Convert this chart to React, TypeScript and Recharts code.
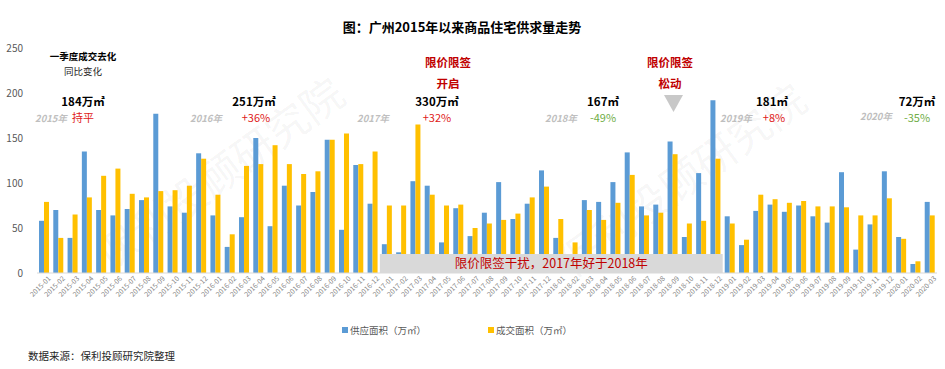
import React from 'react';
import { BarChart, Bar, XAxis, YAxis, Legend, ReferenceArea } from 'recharts';

const months = [
  '2015-01','2015-02','2015-03','2015-04','2015-05','2015-06','2015-07','2015-08','2015-09','2015-10','2015-11','2015-12',
  '2016-01','2016-02','2016-03','2016-04','2016-05','2016-06','2016-07','2016-08','2016-09','2016-10','2016-11','2016-12',
  '2017-01','2017-02','2017-03','2017-04','2017-05','2017-06','2017-07','2017-08','2017-09','2017-10','2017-11','2017-12',
  '2018-01','2018-02','2018-03','2018-04','2018-05','2018-06','2018-07','2018-08','2018-09','2018-10','2018-11','2018-12',
  '2019-01','2019-02','2019-03','2019-04','2019-05','2019-06','2019-07','2019-08','2019-09','2019-10','2019-11','2019-12',
  '2020-01','2020-02','2020-03',
];

const supply = [
  58, 70, 39, 135, 70, 64, 71, 81, 177, 74, 67, 133,
  64, 29, 62, 150, 52, 97, 75, 90, 148, 48, 120, 77,
  32, 23, 102, 97, 34, 72, 41, 67, 101, 60, 77, 114,
  39, 18, 81, 79, 101, 134, 74, 76, 146, 40, 111, 192,
  63, 31, 69, 76, 68, 75, 63, 56, 112, 26, 54, 113,
  40, 10, 79,
];

const sales = [
  79, 39, 65, 84, 108, 116, 88, 84, 91, 92, 97, 127,
  87, 43, 119, 121, 142, 121, 110, 113, 148, 155, 121, 135,
  75, 75, 165, 87, 75, 76, 50, 55, 59, 66, 84, 96,
  60, 34, 70, 59, 78, 109, 64, 67, 132, 55, 58, 127,
  55, 37, 87, 82, 78, 80, 74, 74, 73, 64, 64, 83,
  38, 13, 64,
];

const yTicks = [0, 50, 100, 150, 200, 250];

const seriesNames = ['供应面积（万㎡）', '成交面积（万㎡）'];
const seriesColors = ['#5b9bd5', '#ffc000'];

const title = '图：广州2015年以来商品住宅供求量走势';
const source = '数据来源：保利投顾研究院整理';
const boxNote = '限价限签干扰，2017年好于2018年';
const watermark = '保利投顾研究院';

const data = months.map((m, i) => ({ month: m, supply: supply[i], sales: sales[i] }));

const FONT = '"Noto Sans CJK SC", "Noto Sans", sans-serif';

const XTick = (props: any) => {
  const { x, y, payload } = props;
  return (
    <g transform={`translate(${x + 7},${y + 6})`}>
      <text textAnchor="end" transform="rotate(-45)" fontSize={7} fill="#7f7f7f" fontFamily={FONT}>
        {payload.value}
      </text>
    </g>
  );
};

const LegendContent = () => (
  <div style={{ position: 'relative', width: 945, height: 16, fontFamily: FONT, fontSize: 9.5, color: '#595959' }}>
    <div style={{ position: 'absolute', left: 342, top: 3, display: 'flex', alignItems: 'center' }}>
      <span style={{ width: 6, height: 6, background: seriesColors[0], display: 'inline-block', marginRight: 2 }} />
      <span>{seriesNames[0]}</span>
    </div>
    <div style={{ position: 'absolute', left: 488, top: 3, display: 'flex', alignItems: 'center' }}>
      <span style={{ width: 6, height: 6, background: seriesColors[1], display: 'inline-block', marginRight: 2 }} />
      <span>{seriesNames[1]}</span>
    </div>
  </div>
);

const T = (p: any) => (
  <text
    x={p.x}
    y={p.y}
    textAnchor="middle"
    dominantBaseline="central"
    fontFamily={FONT}
    fontSize={p.size || 11}
    fontWeight={p.bold ? 700 : 400}
    fontStyle={p.italic ? 'italic' : 'normal'}
    fill={p.color || '#000'}
  >
    {p.children}
  </text>
);

const RED = '#e02020';
const DARKRED = '#c00000';
const GREEN = '#70ad47';
const YEARC = '#bfbfbf';

const NUM_Y = 100.5;
const PCT_Y = 116.5;

export default function App() {
  return (
    <div style={{ position: 'absolute', left: 0, top: 0, width: 945, height: 369, background: '#fff', fontFamily: FONT }}>
      <BarChart
        width={945}
        height={369}
        data={data}
        margin={{ top: 48, right: 8, bottom: 30, left: 7 }}
        barGap={0}
        barCategoryGap={2}
      >
        {/* watermarks */}
        <text x={218} y={172} textAnchor="middle" dominantBaseline="central" fontSize={42} fontFamily={FONT}
          fill="#000" fillOpacity={0.05} transform="rotate(-36 218 172)">{watermark}</text>
        <text x={680} y={178} textAnchor="middle" dominantBaseline="central" fontSize={42} fontFamily={FONT}
          fill="#000" fillOpacity={0.05} transform="rotate(-36 680 178)">{watermark}</text>

        <XAxis
          dataKey="month"
          interval={0}
          tickLine={false}
          tickSize={0}
          tickMargin={0}
          height={50}
          axisLine={{ stroke: '#d9d9d9' }}
          tick={<XTick />}
        />
        <YAxis
          domain={[0, 250]}
          ticks={yTicks}
          width={30}
          axisLine={false}
          tickLine={false}
          tickSize={0}
          tickMargin={14}
          tick={{ fontSize: 10, fill: '#595959', fontFamily: FONT }}
        />
        <Legend
          verticalAlign="bottom"
          content={<LegendContent />}
          wrapperStyle={{ position: 'absolute', top: 320, left: 0, width: 945, height: 16 }}
        />
        <Bar dataKey="supply" name={seriesNames[0]} fill={seriesColors[0]} barSize={5} isAnimationActive={false} />
        <Bar dataKey="sales" name={seriesNames[1]} fill={seriesColors[1]} barSize={5} isAnimationActive={false} />
        <ReferenceArea
          x1="2017-01"
          x2="2018-12"
          y1={0}
          y2={21}
          fill="#d9d9d9"
          fillOpacity={1}
          stroke="none"
          ifOverflow="visible"
          zIndex={350}
          label={{ value: boxNote, position: 'center', fill: DARKRED, fontSize: 12.5, fontFamily: FONT }}
        />

        {/* title */}
        <T x={462} y={26} size={13} bold>{title}</T>

        {/* column 1 */}
        <T x={83} y={56} size={9.5} bold>一季度成交去化</T>
        <T x={83} y={70.5} size={9.5} color="#262626">同比变化</T>
        <T x={83} y={NUM_Y} size={11.5} bold>184万㎡</T>
        <T x={83} y={PCT_Y} size={11} color={RED}>持平</T>
        <T x={51} y={118} size={9.5} italic bold color={YEARC}>2015年</T>

        {/* column 2 */}
        <T x={254} y={NUM_Y} size={11.5} bold>251万㎡</T>
        <T x={256} y={PCT_Y} size={11} color={RED}>+36%</T>
        <T x={206} y={118} size={9.5} italic bold color={YEARC}>2016年</T>

        {/* column 3 */}
        <T x={448} y={62} size={11.5} bold color={DARKRED}>限价限签</T>
        <T x={448} y={83} size={11.5} bold color={DARKRED}>开启</T>
        <T x={437} y={NUM_Y} size={11.5} bold>330万㎡</T>
        <T x={437} y={PCT_Y} size={11} color={RED}>+32%</T>
        <T x={373} y={118} size={9.5} italic bold color={YEARC}>2017年</T>

        {/* column 4 */}
        <T x={561} y={118} size={9.5} italic bold color={YEARC}>2018年</T>
        <T x={603} y={NUM_Y} size={11.5} bold>167㎡</T>
        <T x={603} y={PCT_Y} size={11} color={GREEN}>-49%</T>

        {/* column 5 */}
        <T x={670} y={62} size={11.5} bold color={DARKRED}>限价限签</T>
        <T x={670} y={83} size={11.5} bold color={DARKRED}>松动</T>
        <polygon points="664,95 683,95 673.5,112" fill="#c8c8c8" />
        <T x={772} y={NUM_Y} size={11.5} bold>181㎡</T>
        <T x={774} y={PCT_Y} size={11} color={RED}>+8%</T>
        <T x={736} y={118} size={9.5} italic bold color={YEARC}>2019年</T>

        {/* column 6 */}
        <T x={876} y={116} size={9.5} italic bold color={YEARC}>2020年</T>
        <T x={917} y={NUM_Y} size={11.5} bold>72万㎡</T>
        <T x={917} y={PCT_Y} size={11} color={GREEN}>-35%</T>

        {/* source */}
        <text x={28} y={355} dominantBaseline="central" fontSize={10.5} fill="#262626" fontFamily={FONT}>{source}</text>
      </BarChart>
    </div>
  );
}
